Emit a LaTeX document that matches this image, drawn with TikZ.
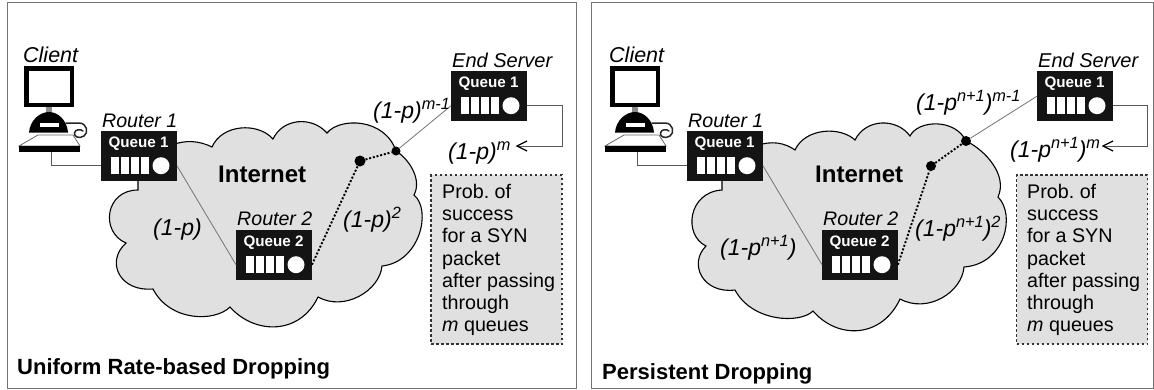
\documentclass[tikz,border=0pt]{standalone}
\usepackage{fontspec}
\setmainfont{Liberation Sans}
\usetikzlibrary{arrows.meta}

\definecolor{cloudgray}{HTML}{E0E0E0}

\tikzset{
	frame/.style={draw=black!55,line width=1pt},
	cloud/.style={draw=black,line width=1.1pt,fill=cloudgray},
	routerbox/.style={draw=none,fill=black!92,anchor=north west,minimum width=75.5pt,minimum height=50pt,inner sep=0pt},
	qtext/.style={text=white,inner sep=0pt,font=\fontsize{15.2}{16}\selectfont\bfseries},
	bar/.style={fill=white,minimum width=8pt,minimum height=17pt,inner sep=0pt},
	wheel/.style={circle,fill=white,minimum size=17pt,inner sep=0pt},
	dot/.style={circle,fill=black,inner sep=0pt},
	thinlink/.style={draw=black!55,line width=.8pt},
	graylink/.style={draw=black!65,line width=1pt},
	dotlink/.style={draw=black,line width=1.9pt,dash pattern=on 2pt off 1.8pt},
	name label/.style={anchor=base west,inner sep=0pt,font=\fontsize{#1}{24}\selectfont\itshape},
	prob label/.style={anchor=base west,inner sep=0pt,font=\fontsize{23}{26}\selectfont\itshape},
	bold label/.style={anchor=base west,inner sep=0pt,font=\fontsize{#1}{#1}\selectfont\bfseries},
	notebox/.style={draw=black!80,line width=1.2pt,dash pattern=on 2.5pt off 2.5pt,fill=cloudgray,minimum width=131pt,minimum height=169pt,inner sep=0pt},
	notetext/.style={anchor=west,inner sep=0pt,align=left,font=\fontsize{19.7}{22.3}\selectfont\frenchspacing}
}

\newcommand{\up}[1]{\raisebox{8.5pt}{\fontsize{16.3}{16}\selectfont #1}}

% name, left, top, queue number
\newcommand{\routernode}[4]{
	\node[routerbox] (#1) at (#2,#3) {};
	\node[qtext] (#1q) at (#2+37.5,#3+13) {Queue #4};
	\foreach \i in {0,...,3}
		\node[bar] (#1b\i) at (#2+14+10*\i,#3+34.5) {};
	\node[wheel] (#1c) at (#2+60,#3+34.7) {};
}

% name of the machine, shift
\newcommand{\clientpc}[2]{
	\begin{scope}[xshift=#2pt]
	\node[draw=black,line width=4.5pt,fill=white,minimum width=45.5pt,minimum height=36.5pt,inner sep=0pt] (#1) at (49,86.5) {};
	\fill[black!45] (46,107) rectangle (52,113);
	\draw[black!85,line width=1.5pt,line cap=round] (66,123) -- (79,123) .. controls (87,123) and (89,133) .. (84,136) .. controls (79,139) and (74,137) .. (74.5,133) .. controls (75,129) and (81,129) .. (83,131);
	\fill[black] (29,132.5) .. controls (30,120) and (40,112) .. (49,112) .. controls (58,112) and (67,120) .. (68,132.5) -- cycle;
	\fill[white] (40,123) rectangle (59,127);
	\draw[black!60,line width=.8pt,fill=white] (38,135) -- (73,135) -- (80,146) -- (19,146) -- cycle;
	\node[fill=black,minimum width=61pt,minimum height=5.5pt,inner sep=0pt] (#1kb) at (49.5,149) {};
	\coordinate (#1p) at (51,151.5);
	\end{scope}
}

\begin{document}
\begin{tikzpicture}[x=1pt,y=-1pt]
	\useasboundingbox (0,0) rectangle (1154,389);
	\fill[white] (0,0) rectangle (1154,389);

	\draw[frame] (7,2.5) rectangle (576,388);
	\draw[frame] (591,2.5) rectangle (1153,388);

	% first panel
	\draw[cloud] (170,146) .. controls (185,139) and (200,141) .. (212,147)
		.. controls (222,124) and (258,122) .. (273,139)
		.. controls (283,118) and (312,116) .. (327,133)
		.. controls (340,117) and (385,118) .. (396,151)
		.. controls (410,160) and (422,180) .. (414,195)
		.. controls (432,210) and (420,262) .. (382,266)
		.. controls (380,290) and (345,312) .. (318,297)
		.. controls (300,335) and (255,335) .. (230,307)
		.. controls (215,322) and (170,322) .. (153,289)
		.. controls (120,292) and (105,262) .. (126,243)
		.. controls (100,232) and (105,190) .. (138,190)
		-- (138,170) -- cycle;

	\clientpc{pc}{0}
	\routernode{ra}{101}{131}{1}
	\routernode{rb}{236}{230}{2}
	\routernode{es}{451}{71}{1}

	\node[dot,minimum size=11pt] (da) at (360,161) {};
	\node[dot,minimum size=9pt] (db) at (396,151) {};
	\coordinate (cor) at (562,146);
	\coordinate (tip) at (517,146);

	\draw[graylink] (pcp) |- (ra.west |- rac);
	\draw[thinlink] (ra.east |- rac) -- (rb.west |- rbc);
	\draw[dotlink] (rb.east |- rbc) -- (da);
	\draw[dotlink] (da) -- (db);
	\draw[thinlink] (db) -- (es.west |- esc);
	\draw[graylink] (es.east |- esc) -| (cor) -- (tip);
	\draw[black,line width=1.2pt] (527,141) -- (tip) -- (527,151);

	\node[name label=21.5] (lc) at (23,62) {Client};
	\node[name label=19.6] (lra) at (102,127) {Router 1};
	\node[name label=19.6] (lrb) at (237,225) {Router 2};
	\node[name label=20] (les) at (452,67) {End Server};
	\node[bold label=24] (net) at (218,182) {Internet};
	\node[prob label] (pa) at (153,235) {(1-p)};
	\node[prob label] (pb) at (343,227) {(1-p)\up{2}};
	\node[prob label] (pc) at (373,118) {(1-p)\up{m-1}};
	\node[prob label] (pd) at (448,159) {(1-p)\up{m}};
	\node[notebox] (note) at (496.5,259.5) {};
	\node[notetext] (notet) at (442,260) {Prob. of\\success\\for a SYN\\packet\\after passing\\through\\\textit{m} queues};
	\node[bold label=22] (title) at (17,374) {Uniform Rate-based Dropping};

	% second panel
	\draw[cloud] (756,146) .. controls (772,140) and (785,143) .. (795,150)
		.. controls (805,128) and (840,126) .. (855,140)
		.. controls (866,118) and (897,118) .. (910,136)
		.. controls (918,120) and (955,118) .. (966,141)
		.. controls (985,150) and (1008,175) .. (998,197)
		.. controls (1016,215) and (1005,264) .. (964,267)
		.. controls (962,292) and (928,314) .. (900,299)
		.. controls (882,338) and (838,340) .. (813,311)
		.. controls (800,324) and (752,322) .. (735,290)
		.. controls (703,294) and (688,264) .. (706,246)
		.. controls (683,235) and (688,192) .. (722,190)
		-- (722,170) -- cycle;

	\clientpc{qc}{586}
	\routernode{sa}{687}{131}{1}
	\routernode{sb}{822}{230}{2}
	\routernode{et}{1037}{71}{1}

	\node[dot,minimum size=10pt] (ga) at (931,166) {};
	\node[dot,minimum size=10pt] (gb) at (966,141) {};
	\coordinate (cos) at (1147,146);
	\coordinate (tis) at (1103,146);

	\draw[graylink] (qcp) |- (sa.west |- sac);
	\draw[thinlink] (sa.east |- sac) -- (sb.west |- sbc);
	\draw[dotlink] (sb.east |- sbc) -- (ga);
	\draw[dotlink] (ga) -- (gb);
	\draw[thinlink] (gb) -- (et.west);
	\draw[graylink] (et.east |- etc) -| (cos) -- (tis);
	\draw[black,line width=1.2pt] (1113,141) -- (tis) -- (1113,151);

	\node[name label=21.5] (mc) at (609,62) {Client};
	\node[name label=19.6] (msa) at (688,127) {Router 1};
	\node[name label=19.6] (msb) at (823,225) {Router 2};
	\node[name label=20] (met) at (1038,67) {End Server};
	\node[bold label=24] (nes) at (815,182) {Internet};
	\node[prob label] (qa) at (720,255) {(1-p\up{n+1})};
	\node[prob label] (qb) at (915,236) {(1-p\up{n+1})\up{2}};
	\node[prob label] (qd) at (916,110) {(1-p\up{n+1})\up{m-1}};
	\node[prob label] (qe) at (1010,157) {(1-p\up{n+1})\up{m}};
	\node[notebox] (nott) at (1082,259.5) {};
	\node[notetext] (nottt) at (1027,260) {Prob. of\\success\\for a SYN\\packet\\after passing\\through\\\textit{m} queues};
	\node[bold label=22] (titl) at (602,379) {Persistent Dropping};

\end{tikzpicture}
\end{document}
